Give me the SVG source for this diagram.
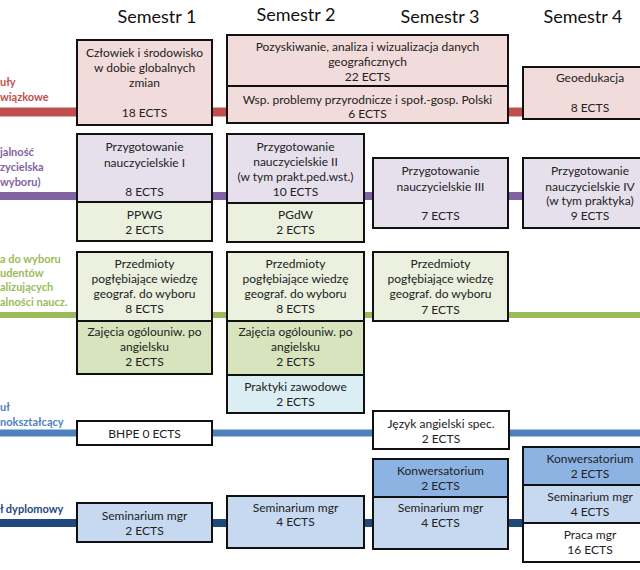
<svg xmlns="http://www.w3.org/2000/svg" width="640" height="570" viewBox="0 0 640 570">
<style>
text{font-family:Lato,"Open Sans","Liberation Sans",sans-serif;}
.t{font-size:12px;fill:#222;text-anchor:middle;}
.h{font-size:18px;fill:#111;text-anchor:middle;}
.lb{font-size:11px;font-weight:bold;}
.b{stroke:#111;stroke-width:2;}
.red{fill:#f2dcdb}.pur{fill:#e5e0ec}.lg{fill:#ebf1de}.dg{fill:#d7e4bd}.cy{fill:#dbeef4}.wh{fill:#fff}.lb1{fill:#c6d9f1}.db{fill:#8db3e2}
</style>
<rect width="640" height="570" fill="#fff"/>
<g id="headers">
<text class="h" x="157" y="23">Semestr 1</text>
<text class="h" x="296" y="21">Semestr 2</text>
<text class="h" x="440" y="23">Semestr 3</text>
<text class="h" x="583" y="23">Semestr 4</text>
</g>
<g id="labels">
<g fill="#c0504d"><text class="lb" x="0" y="86">uły</text><text class="lb" x="0" y="101">wiązkowe</text></g>
<g fill="#8064a2"><text class="lb" x="0" y="156">jalność</text><text class="lb" x="0" y="171">zycielska</text><text class="lb" x="0" y="186">wyboru)</text></g>
<g fill="#9bbb59"><text class="lb" x="0" y="263">a do wyboru</text><text class="lb" x="0" y="277">udentów</text><text class="lb" x="0" y="291">alizujących</text><text class="lb" x="0" y="306">alności naucz.</text></g>
<g fill="#4f81bd"><text class="lb" x="0" y="411">uł</text><text class="lb" x="0" y="426">nokształcący</text></g>
<g fill="#1f497d"><text class="lb" x="0" y="513">ł dyplomowy</text></g>
</g>
<g id="connectors">
<line x1="0" y1="112" x2="640" y2="112" stroke="#c0504d" stroke-width="9"/>
<line x1="0" y1="196" x2="640" y2="196" stroke="#8064a2" stroke-width="8"/>
<line x1="0" y1="315" x2="640" y2="315" stroke="#9bbb59" stroke-width="6"/>
<line x1="0" y1="433" x2="640" y2="433" stroke="#4f81bd" stroke-width="7"/>
<line x1="0" y1="523" x2="640" y2="523" stroke="#1f497d" stroke-width="8"/>
</g>
<g id="czlowiek"><rect class="b red" x="77" y="40" width="135" height="85"/>
<text class="t" x="144.5" y="57">Człowiek i środowisko</text><text class="t" x="144.5" y="72">w dobie globalnych</text><text class="t" x="144.5" y="87">zmian</text><text class="t" x="144.5" y="117">18 ECTS</text></g>
<g id="pozyskiwanie"><rect class="b red" x="227" y="35" width="281" height="51"/>
<text class="t" x="367.5" y="51">Pozyskiwanie, analiza i wizualizacja danych</text><text class="t" x="367.5" y="66">geograficznych</text><text class="t" x="367.5" y="81">22 ECTS</text></g>
<g id="wsp"><rect class="b red" x="227" y="86" width="281" height="37"/>
<text class="t" x="367.5" y="104">Wsp. problemy przyrodnicze i społ.-gosp. Polski</text><text class="t" x="367.5" y="118">6 ECTS</text></g>
<g id="geoedukacja"><rect class="b red" x="523" y="67" width="135" height="52"/>
<text class="t" x="590" y="82">Geoedukacja</text><text class="t" x="590" y="112">8 ECTS</text></g>

<g id="pn1"><rect class="b pur" x="77" y="134" width="135" height="68"/>
<text class="t" x="144.5" y="151">Przygotowanie</text><text class="t" x="144.5" y="167">nauczycielskie I</text><text class="t" x="144.5" y="196">8 ECTS</text></g>
<g id="ppwg"><rect class="b lg" x="77" y="202" width="135" height="39"/>
<text class="t" x="144.5" y="219">PPWG</text><text class="t" x="144.5" y="234">2 ECTS</text></g>
<g id="pn2"><rect class="b pur" x="227" y="134" width="137" height="69"/>
<text class="t" x="295.5" y="151">Przygotowanie</text><text class="t" x="295.5" y="166">nauczycielskie II</text><text class="t" x="295.5" y="181">(w tym prakt.ped.wst.)</text><text class="t" x="295.5" y="196">10 ECTS</text></g>
<g id="pgdw"><rect class="b lg" x="227" y="203" width="137" height="39"/>
<text class="t" x="295.5" y="219">PGdW</text><text class="t" x="295.5" y="234">2 ECTS</text></g>
<g id="pn3"><rect class="b pur" x="373" y="158" width="135" height="70"/>
<text class="t" x="440.5" y="175">Przygotowanie</text><text class="t" x="440.5" y="191">nauczycielskie III</text><text class="t" x="440.5" y="220">7 ECTS</text></g>
<g id="pn4"><rect class="b pur" x="523" y="158" width="135" height="70"/>
<text class="t" x="590" y="175">Przygotowanie</text><text class="t" x="590" y="191">nauczycielskie IV</text><text class="t" x="590" y="205">(w tym praktyka)</text><text class="t" x="590" y="220">9 ECTS</text></g>

<g id="pw1"><rect class="b lg" x="77" y="252" width="135" height="69"/>
<text class="t" x="144.5" y="268">Przedmioty</text><text class="t" x="144.5" y="283">pogłębiające wiedzę</text><text class="t" x="144.5" y="298">geograf. do wyboru</text><text class="t" x="144.5" y="313">8 ECTS</text></g>
<g id="zo1"><rect class="b dg" x="77" y="321" width="135" height="53"/>
<text class="t" x="144.5" y="336">Zajęcia ogólouniw. po</text><text class="t" x="144.5" y="351">angielsku</text><text class="t" x="144.5" y="366">2 ECTS</text></g>
<g id="pw2"><rect class="b lg" x="227" y="252" width="137" height="69"/>
<text class="t" x="295.5" y="268">Przedmioty</text><text class="t" x="295.5" y="283">pogłębiające wiedzę</text><text class="t" x="295.5" y="298">geograf. do wyboru</text><text class="t" x="295.5" y="313">8 ECTS</text></g>
<g id="zo2"><rect class="b dg" x="227" y="321" width="137" height="54"/>
<text class="t" x="295.5" y="336">Zajęcia ogólouniw. po</text><text class="t" x="295.5" y="351">angielsku</text><text class="t" x="295.5" y="366">2 ECTS</text></g>
<g id="praktyki"><rect class="b cy" x="227" y="375" width="137" height="38"/>
<text class="t" x="295.5" y="391">Praktyki zawodowe</text><text class="t" x="295.5" y="406">2 ECTS</text></g>
<g id="pw3"><rect class="b lg" x="373" y="252" width="135" height="69"/>
<text class="t" x="440.5" y="268">Przedmioty</text><text class="t" x="440.5" y="283">pogłębiające wiedzę</text><text class="t" x="440.5" y="298">geograf. do wyboru</text><text class="t" x="440.5" y="314">7 ECTS</text></g>

<g id="bhpe"><rect class="b wh" x="77" y="421" width="135" height="24"/>
<text class="t" x="144.5" y="438">BHPE 0 ECTS</text></g>
<g id="jezyk"><rect class="b wh" x="373" y="411" width="136" height="38"/>
<text class="t" x="441" y="428">Język angielski spec.</text><text class="t" x="441" y="443">2 ECTS</text></g>

<g id="sem1"><rect class="b lb1" x="77" y="503" width="135" height="39"/>
<text class="t" x="144.5" y="520">Seminarium mgr</text><text class="t" x="144.5" y="535">2 ECTS</text></g>
<g id="sem2"><rect class="b lb1" x="227" y="496" width="137" height="52"/>
<text class="t" x="295.5" y="512">Seminarium mgr</text><text class="t" x="295.5" y="526">4 ECTS</text></g>
<g id="konw3"><rect class="b db" x="373" y="459" width="135" height="38"/>
<text class="t" x="440.5" y="475">Konwersatorium</text><text class="t" x="440.5" y="490">2 ECTS</text></g>
<g id="sem3"><rect class="b lb1" x="373" y="497" width="135" height="52"/>
<text class="t" x="440.5" y="512">Seminarium mgr</text><text class="t" x="440.5" y="527">4 ECTS</text></g>
<g id="konw4"><rect class="b db" x="523" y="447" width="135" height="38"/>
<text class="t" x="590" y="463">Konwersatorium</text><text class="t" x="590" y="478">2 ECTS</text></g>
<g id="sem4"><rect class="b lb1" x="523" y="485" width="135" height="38"/>
<text class="t" x="590" y="501">Seminarium mgr</text><text class="t" x="590" y="516">4 ECTS</text></g>
<g id="praca"><rect class="b wh" x="523" y="523" width="135" height="39"/>
<text class="t" x="590" y="539">Praca mgr</text><text class="t" x="590" y="554">16 ECTS</text></g>
</svg>
